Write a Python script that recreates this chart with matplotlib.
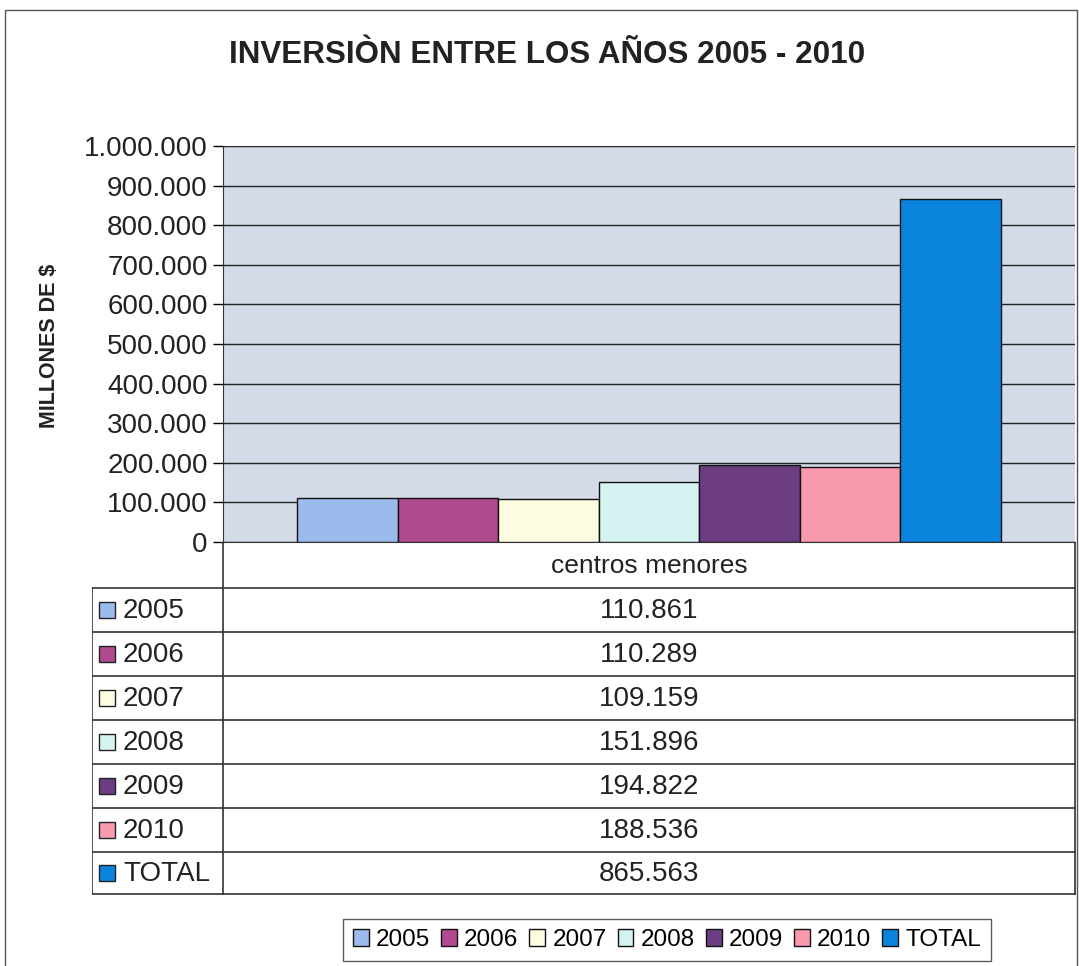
import matplotlib.pyplot as plt
from matplotlib.patches import Rectangle

plt.rcParams['font.family'] = ['Liberation Sans', 'DejaVu Sans']

years = ['2005', '2006', '2007', '2008', '2009', '2010', 'TOTAL']
values = [110861, 110289, 109159, 151896, 194822, 188536, 865563]
value_labels = ['110.861', '110.289', '109.159', '151.896', '194.822', '188.536', '865.563']
colors = ['#9bbbec', '#b24a90', '#fcfde0', '#d4f3f1', '#6c3d82', '#f99aae', '#0a84dd']
category = 'centros menores'
yticks = [0, 100000, 200000, 300000, 400000, 500000, 600000, 700000, 800000, 900000, 1000000]
ytick_labels = ['0', '100.000', '200.000', '300.000', '400.000', '500.000',
                '600.000', '700.000', '800.000', '900.000', '1.000.000']

W, H = 1079, 966
fig = plt.figure(figsize=(W / 100, H / 100), dpi=100)


def fbox(x0, y0, x1, y1):
    # pixel box (top-left origin) -> figure fraction rect
    return [x0 / W, 1 - y1 / H, (x1 - x0) / W, (y1 - y0) / H]


# outer chart border
fig.patches.append(Rectangle((5 / W, -0.05), 1072 / W, 1.05 - 10 / H, transform=fig.transFigure,
                             fill=False, edgecolor='#555555', linewidth=1.0))

fig.text(547 / W, 1 - 55 / H, 'INVERSIÒN ENTRE LOS AÑOS 2005 - 2010', ha='center', va='center',
         fontsize=22.6, fontweight='bold', color='#222222')

# bar chart
ax = fig.add_axes(fbox(223, 146, 1075, 542))
ax.set_facecolor('#d2dbe7')
n = len(values)
bw = 0.826 / n
for i, (v, c) in enumerate(zip(values, colors)):
    ax.bar(-0.413 + bw * (i + 0.5), v, width=bw, color=c, edgecolor='#111111', linewidth=1.0,
           label=years[i], zorder=3)
ax.set_xlim(-0.5, 0.5)
ax.set_ylim(0, 1000000)
ax.set_yticks(yticks)
ax.set_yticklabels(ytick_labels, fontsize=20, color='#222222')
ax.set_xticks([])
ax.yaxis.grid(True, color='#222222', linewidth=1.0, zorder=0)
ax.tick_params(axis='y', length=7, width=1, pad=4)
ax.spines['top'].set_visible(False)
ax.spines['right'].set_visible(False)
ax.spines['left'].set_color('#333333')
ax.spines['bottom'].set_color('#333333')
fig.text(50 / W, 1 - 346 / H, 'MILLONES DE $', rotation=90, ha='center', va='center',
         fontsize=15.5, fontweight='bold', color='#222222')

# data table below the chart (pixel coordinates)
tx = fig.add_axes(fbox(92, 542, 1076, 895))
tx.set_xlim(92, 1076)
tx.set_ylim(895, 542)
tx.axis('off')
row_h = 44
head_bottom = 588
lc = '#333333'
tx.plot([223, 223], [542, 895], color=lc, lw=1.2)
tx.plot([1075, 1075], [542, 895], color=lc, lw=1.2)
tx.plot([92, 1075], [head_bottom, head_bottom], color=lc, lw=1.2)
tx.plot([92, 92], [head_bottom, 895], color=lc, lw=1.2)
tx.text(649, 566, category, ha='center', va='center', fontsize=19, color='#222222')
for i, (y, lab, c) in enumerate(zip(years, value_labels, colors)):
    top = head_bottom + i * row_h
    bottom = top + row_h if i < n - 1 else 894
    tx.plot([92, 1075], [bottom, bottom], color=lc, lw=1.2)
    mid = (top + bottom) / 2
    tx.add_patch(Rectangle((99, mid - 8), 16, 16, facecolor=c, edgecolor='#222222', lw=1.0))
    tx.text(123, mid + 1, y, ha='left', va='center', fontsize=20, color='#222222')
    tx.text(649, mid + 1, lab, ha='center', va='center', fontsize=20, color='#222222')

# legend at the bottom
handles, labels = ax.get_legend_handles_labels()
leg = fig.legend(handles, labels, loc='center', bbox_to_anchor=(667 / W, 1 - 940 / H), ncol=n,
                 fontsize=17.5, frameon=True, fancybox=False, edgecolor='#333333',
                 handlelength=0.65, handleheight=0.65, handletextpad=0.3, columnspacing=0.45,
                 borderpad=0.4, borderaxespad=0)
leg.get_frame().set_linewidth(1.0)

fig.savefig('out.png', dpi=100)
